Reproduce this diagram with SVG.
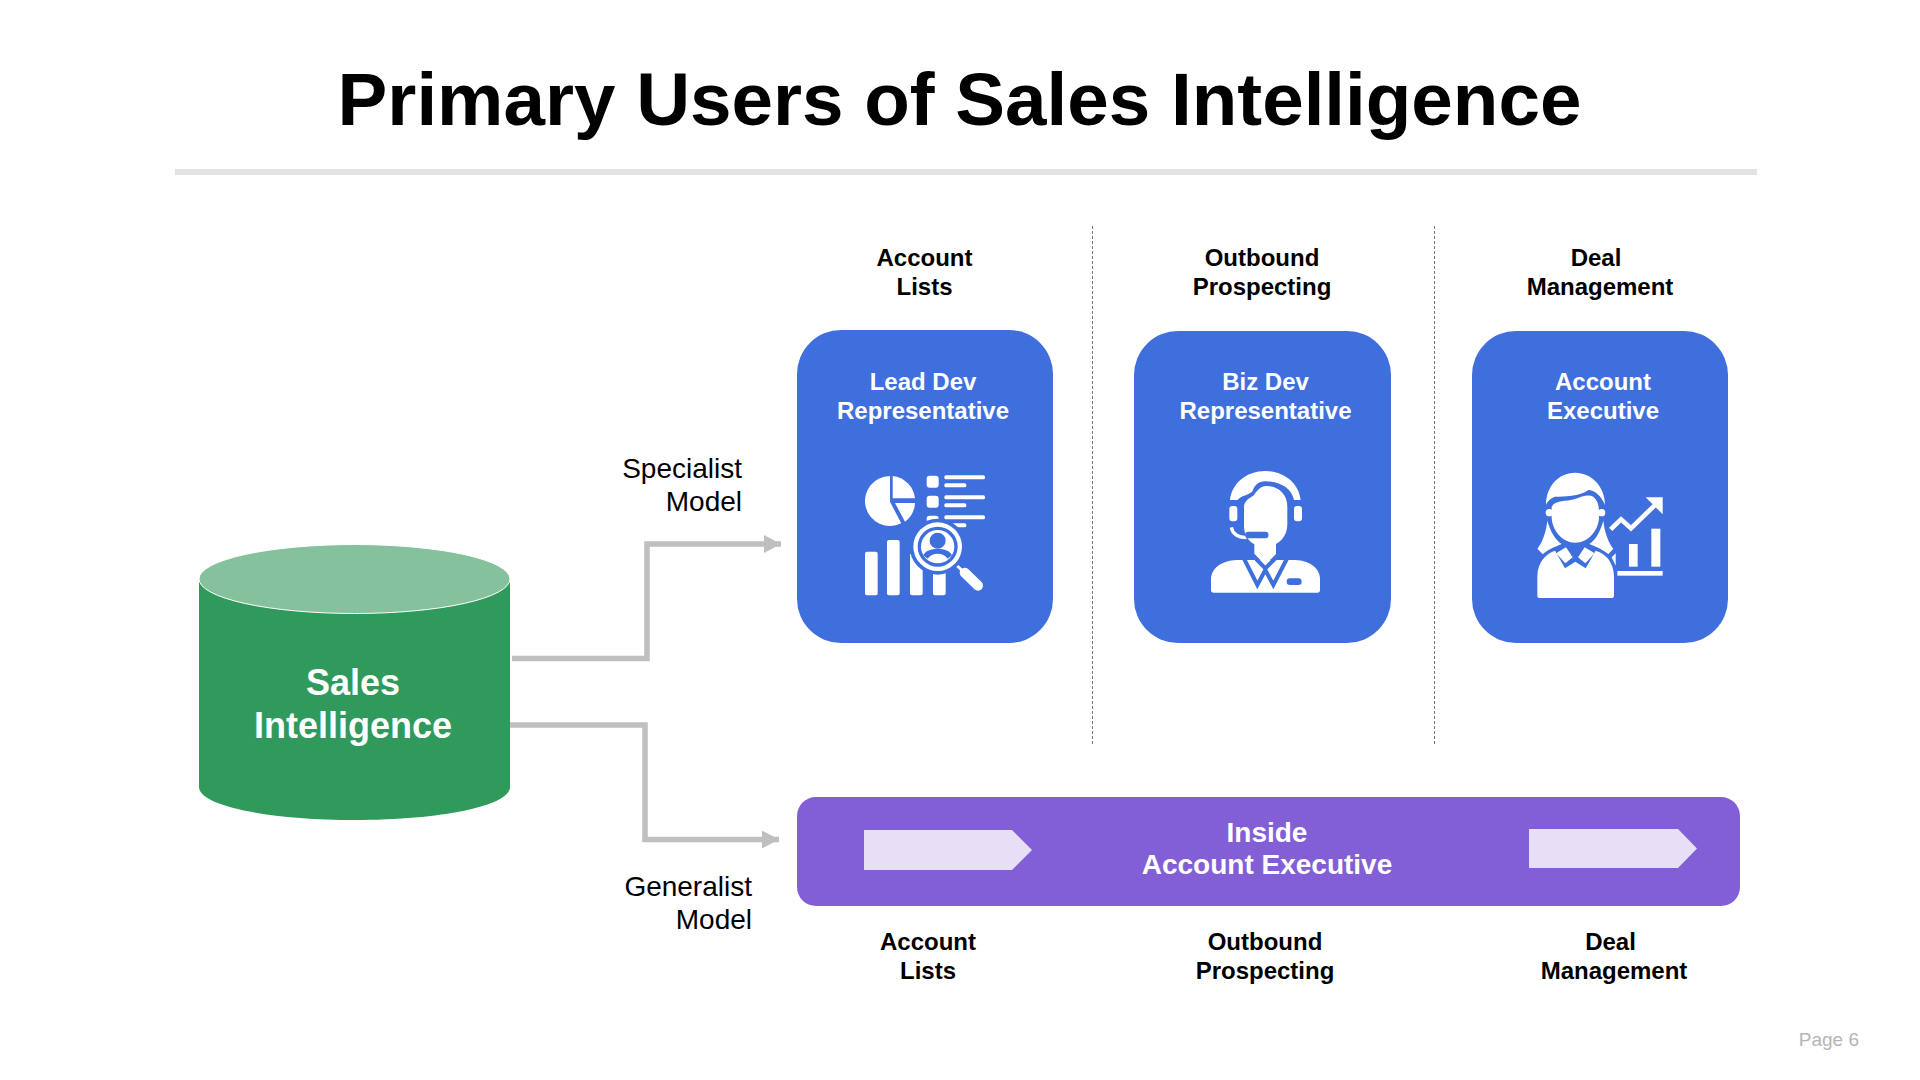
<svg xmlns="http://www.w3.org/2000/svg" width="1920" height="1080" viewBox="0 0 1920 1080">
<defs>
<style>
text{font-family:"Liberation Sans",Arial,sans-serif;}
.t{font-size:74.600px;font-weight:700;fill:#000;text-anchor:middle}
.h{font-size:24px;font-weight:700;fill:#000;text-anchor:middle}
.c{font-size:24px;font-weight:700;fill:#fff;text-anchor:middle}
.p{font-size:28px;font-weight:700;fill:#fff;text-anchor:middle}
.s{font-size:36px;font-weight:700;fill:#fff;text-anchor:middle}
.m{font-size:28px;fill:#000;text-anchor:end}
.card{fill:#3f6fdd}
.w{fill:#fff}
.b{fill:#3f6fdd}
.conn{fill:none;stroke:#bfbfbf;stroke-width:5.5}
.dash{stroke:#777;stroke-width:1;stroke-dasharray:3 2;fill:none}
</style>
<marker id="ah" markerUnits="userSpaceOnUse" markerWidth="18" markerHeight="18" refX="17" refY="9" orient="auto"><path d="M0 0L17 9L0 18Z" fill="#bfbfbf"/></marker>
</defs>
<rect width="1920" height="1080" fill="#fff"/>
<text class="t" x="959.500" y="125">Primary Users of Sales Intelligence</text>
<rect x="175" y="169" width="1582" height="6" fill="#e2e2e2"/>
<g id="dividers"><path class="dash" d="M1092.500 226V744"/><path class="dash" d="M1434.500 226V744"/></g>

<g id="connectors">
<path class="conn" marker-end="url(#ah)" d="M512 658.500H647V544H781"/>
<path class="conn" marker-end="url(#ah)" d="M510 725H645V839.500H779"/>
</g>

<g id="sales-intelligence">
<path d="M199 580V787C199 806 269 820 354.500 820S510 806 510 787V580Z" fill="#2f9a5c"/>
<ellipse cx="354.500" cy="579" rx="155.500" ry="34.500" fill="#85c19c" stroke="#fff" stroke-width="1"/>
<text class="s" x="353" y="695">Sales</text>
<text class="s" x="353" y="738">Intelligence</text>
</g>

<g id="label-specialist"><text class="m" x="742" y="478">Specialist</text><text class="m" x="742" y="511">Model</text></g>
<g id="label-generalist"><text class="m" x="752" y="896">Generalist</text><text class="m" x="752" y="929">Model</text></g>

<g id="head-account"><text class="h" x="924.500" y="266">Account</text><text class="h" x="924.500" y="295">Lists</text></g>
<g id="head-outbound"><text class="h" x="1262" y="266">Outbound</text><text class="h" x="1262" y="295">Prospecting</text></g>
<g id="head-deal"><text class="h" x="1596" y="266">Deal</text><text class="h" x="1600" y="295">Management</text></g>

<g id="lead-dev">
<rect class="card" x="797" y="330" width="256" height="313" rx="44"/>
<text class="c" x="923" y="390">Lead Dev</text><text class="c" x="923" y="419">Representative</text>
<g transform="translate(780 320) scale(.33333)">
<path class="w" d="M330 468V545L363.700 610A75 75 0 1 1 330 468Z"/>
<path class="w" d="M338 468A75 75 0 0 1 405 535H338Z"/>
<path class="w" d="M345 549H405A75 75 0 0 1 375 605Z"/>
<rect class="w" x="440" y="467" width="36" height="36" rx="9"/>
<rect class="w" x="440" y="527" width="36" height="36" rx="9"/>
<rect class="w" x="440" y="587" width="36" height="36" rx="9"/>
<rect class="w" x="493" y="466" width="122" height="12" rx="5"/>
<rect class="w" x="493" y="490" width="66" height="12" rx="5"/>
<rect class="w" x="493" y="526" width="122" height="12" rx="5"/>
<rect class="w" x="493" y="550" width="66" height="12" rx="5"/>
<rect class="w" x="493" y="586" width="122" height="12" rx="5"/>
<rect class="w" x="493" y="610" width="66" height="12" rx="5"/>
<rect class="w" x="255" y="695" width="38" height="131" rx="6"/>
<rect class="w" x="321" y="660" width="38" height="166" rx="6"/>
<rect class="w" x="390" y="700" width="38" height="126" rx="6"/>
<rect class="w" x="459" y="740" width="38" height="86" rx="6"/>
<circle class="b" cx="473" cy="680" r="84"/>
<circle class="w" cx="473" cy="680" r="73"/>
<circle class="b" cx="473" cy="680" r="60"/>
<circle class="w" cx="473" cy="680" r="50"/>
<circle class="b" cx="473" cy="662" r="24"/>
<path class="b" d="M430 706C440 680 506 680 516 706L503 716C490 696 456 696 443 716Z"/>
<path d="M532 738L552 757" stroke="#fff" stroke-width="9" fill="none"/>
<path d="M554 758L594 797" stroke="#fff" stroke-width="30" stroke-linecap="round" fill="none"/>
</g>
</g>

<g id="biz-dev">
<rect class="card" x="1134" y="331" width="257" height="312" rx="44"/>
<text class="c" x="1265.500" y="390">Biz Dev</text><text class="c" x="1265.500" y="419">Representative</text>
<g transform="translate(1120 320) scale(.33333)">
<path class="w" d="M330 540C335 490 380 453 436 453S537 490 542 540H522C515 505 480 484 436 484C415 484 405 495 398 512C390 525 365 525 352 540Z"/>
<path class="w" d="M372 562C372 545 385 535 400 527C412 512 420 498 440 498C475 498 502 522 502 560V610C502 640 490 660 468 672V702L436 735L403 702V672C385 665 372 640 372 620Z"/>
<rect class="w" x="328" y="558" width="24" height="46" rx="9"/>
<rect class="w" x="522" y="558" width="24" height="46" rx="9"/>
<path d="M334 622C338 642 355 652 380 653" stroke="#fff" stroke-width="10" fill="none"/>
<path d="M385 645H436" stroke="#3f6fdd" stroke-width="19" stroke-linecap="round" fill="none"/>
<path class="w" d="M280 818Q273 818 273 811V778C273 745 305 722 350 720H525C570 722 600 745 600 778V811Q600 818 593 818Z"/>
<path d="M368 708L412 795L436 750L460 795L505 708" stroke="#3f6fdd" stroke-width="12" fill="none"/>
<path d="M397 705L436 745L476 705" stroke="#3f6fdd" stroke-width="12" fill="none"/>
<rect class="b" x="500" y="775" width="45" height="20" rx="10"/>
</g>
</g>

<g id="account-exec">
<rect class="card" x="1472" y="331" width="256" height="312" rx="44"/>
<text class="c" x="1603" y="390">Account</text><text class="c" x="1603" y="419">Executive</text>
<g transform="translate(1460 320) scale(.33333)">
<path class="w" d="M258 555C258 500 295 458 345 458S435 500 435 555C425 530 405 510 385 510C360 530 310 530 285 530C270 535 262 545 258 555Z"/>
<path class="w" d="M275 560C285 540 320 545 345 537C365 530 385 522 400 530C412 540 417 555 417 575V590C417 630 385 668 346 668S275 630 275 590Z"/>
<circle class="w" cx="268" cy="578" r="11"/>
<circle class="w" cx="425" cy="578" r="11"/>
<path class="w" d="M262 602C258 640 245 670 232 686L248 703C262 690 285 680 305 672C285 660 270 630 262 602Z"/>
<path class="w" d="M430 602C434 640 447 670 460 686L445 702C430 690 410 680 388 672C408 660 422 630 430 602Z"/>
<path class="w" d="M232 770C232 725 260 700 285 692L315 745L346 725L377 745L407 692C435 700 462 725 462 770V828Q462 834 456 834H238Q232 834 232 828Z"/>
<path class="w" d="M288 700L318 682L338 712L316 730Z"/>
<path class="w" d="M404 700L374 682L354 712L376 730Z"/>
<path d="M452 628L483 598L513 625L590 550" stroke="#fff" stroke-width="14" fill="none"/>
<path class="w" d="M557 532H608V583Z"/>
<rect class="w" x="472" y="753" width="136" height="14"/>
<rect class="w" x="507" y="672" width="26" height="68"/>
<rect class="w" x="574" y="626" width="27" height="114"/>
<path class="w" d="M467 700L455 712L467 737Z"/>
</g>
</g>

<g id="inside-ae">
<rect x="797" y="797" width="943" height="109" rx="19" fill="#825fd6"/>
<path d="M864 830H1012L1032 850L1012 870H864Z" fill="#e6dff6"/>
<path d="M1529 829H1678L1697 848.500L1678 868H1529Z" fill="#e6dff6"/>
<text class="p" x="1267" y="842">Inside</text><text class="p" x="1267" y="874">Account Executive</text>
</g>

<g id="foot-account"><text class="h" x="928" y="950">Account</text><text class="h" x="928" y="979">Lists</text></g>
<g id="foot-outbound"><text class="h" x="1265" y="950">Outbound</text><text class="h" x="1265" y="979">Prospecting</text></g>
<g id="foot-deal"><text class="h" x="1610.500" y="950">Deal</text><text class="h" x="1614" y="979">Management</text></g>

<text x="1859" y="1046" font-size="19" fill="#b5b5b5" text-anchor="end">Page 6</text>
</svg>
